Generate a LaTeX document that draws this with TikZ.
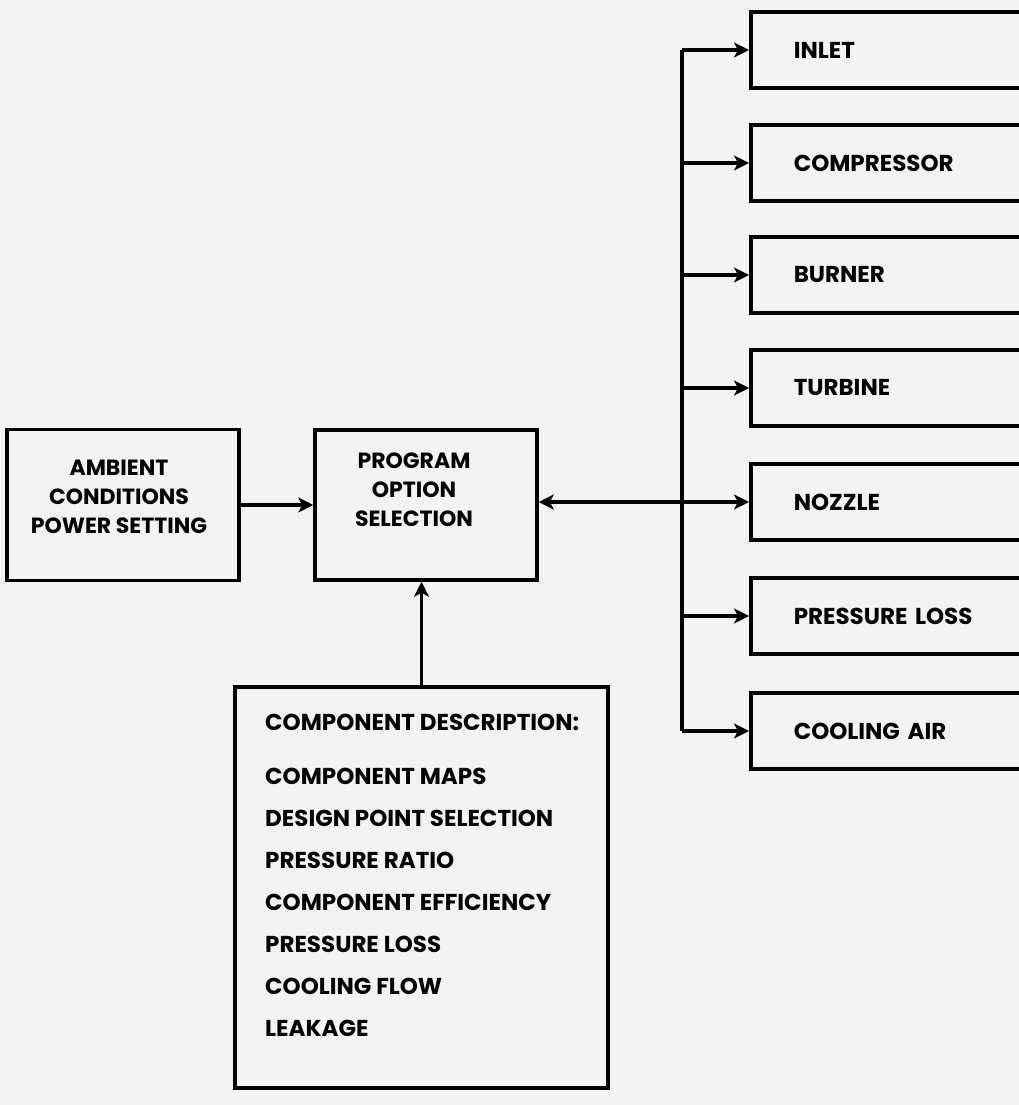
\documentclass[tikz,border=0pt]{standalone}
\usepackage{fontspec}
\setmainfont{Poppins}
\usetikzlibrary{arrows.meta}
\definecolor{paper}{RGB}{243,243,243}
\begin{document}
\begin{tikzpicture}[x=1pt,y=-1pt,
  box/.style={draw=black,line width=3.5pt,inner sep=0pt},
  lbl/.style={font=\fontsize{22}{29}\selectfont\bfseries,align=center,inner sep=0pt},
  rbox/.style={box,minimum width=300pt,minimum height=76pt,anchor=west,
     text width=214pt,inner xsep=43pt,align=left,font=\fontsize{23}{26}\selectfont\bfseries},
  arr/.style={line width=3.5pt,-{Stealth[length=15pt,width=15pt,inset=4pt]}},
  darr/.style={line width=3.5pt,{Stealth[length=15pt,width=15pt,inset=4pt]}-{Stealth[length=15pt,width=15pt,inset=4pt]}}
]
\fill[paper] (0,0) rectangle (1019,1105);
\useasboundingbox (0,0) rectangle (1019,1105);
\clip (0,0) rectangle (1019,1105);

% right column
\node[rbox] (inlet) at (749,50) {INLET};
\node[rbox] (compr) at (749,163) {COMPRESSOR};
\node[rbox] (burner) at (749,275) {BURNER};
\node[rbox] (turb) at (749,388) {TURBINE};
\node[rbox] (nozzle) at (749,502) {NOZZLE};
\node[rbox] (ploss) at (749,616) {PRESSURE LOSS};
\node[rbox] (cool) at (749,731) {COOLING AIR};

% left boxes
\node[box,minimum width=232pt,minimum height=151pt] (amb) at (123,505) {};
\node[lbl] (ambt) at (119,497) {AMBIENT\\CONDITIONS\\POWER SETTING};
\node[box,minimum width=222pt,minimum height=150pt] (prog) at (426,505) {};
\node[lbl] (progt) at (414,490) {PROGRAM\\OPTION\\SELECTION};

% component box
\node[box,minimum width=373pt,minimum height=401pt] (comp) at (421.5,887.5) {};
\node[anchor=north west,inner sep=0pt,align=left,font=\fontsize{23}{42}\selectfont\bfseries] (compt) at (265,714)
 {COMPONENT DESCRIPTION:\\[12pt]COMPONENT MAPS\\DESIGN POINT SELECTION\\PRESSURE RATIO\\COMPONENT EFFICIENCY\\PRESSURE LOSS\\COOLING FLOW\\LEAKAGE};

% bus
\coordinate (bustop) at (682,50);
\coordinate (busbot) at (682,731);
\draw[line width=3.5pt] (bustop) -- (busbot);
\foreach \b in {inlet,compr,burner,turb,ploss,cool}
  \draw[arr] (bustop |- \b.west) -- (\b.west);
\draw[darr] (prog.east |- nozzle.west) -- (nozzle.west);
\draw[arr] (amb.east) -- (prog.west);
\draw[arr] (comp.north) -- (comp.north |- prog.south);
\end{tikzpicture}
\end{document}
